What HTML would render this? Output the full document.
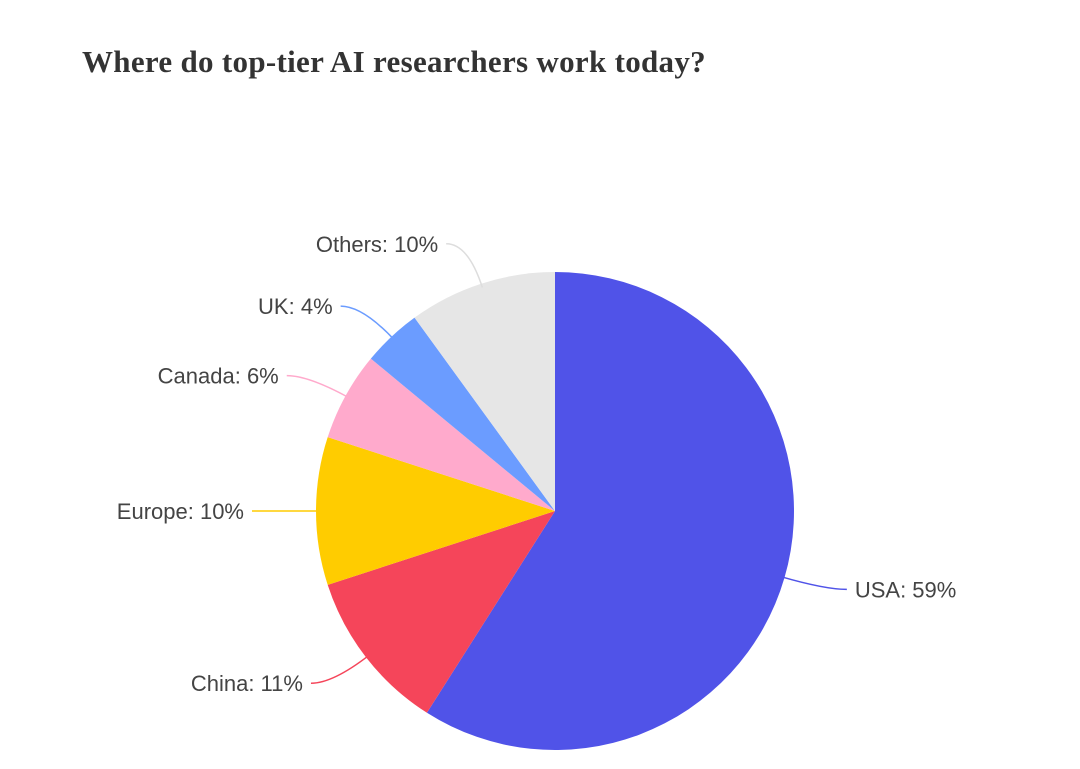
<!DOCTYPE html>
<html><head><meta charset="utf-8">
<style>
html,body{margin:0;padding:0;background:#fff;width:1080px;height:769px;overflow:hidden}
h1{position:absolute;left:82px;top:44px;margin:0;font:bold 31px "Liberation Serif",serif;color:#333;letter-spacing:0.3px}
svg{position:absolute;left:0;top:0}
</style></head>
<body>
<h1>Where do top-tier AI researchers work today?</h1>
<svg id="chart" width="1080" height="769"></svg>
<script>
const categories = ["USA","China","Europe","Canada","UK","Others"];
const values = [59,11,10,6,4,10];
const colors = ["#5053e8","#f5455a","#ffcc00","#ffaacc","#6b9cff","#e6e6e6"];
const lineColors = ["#5053e8","#f5455a","#ffcc00","#ffaacc","#6b9cff","#dddddd"];
const svg = document.getElementById('chart');
const NS = "http://www.w3.org/2000/svg";
const cx = 555, cy = 511, r = 239;
const total = values.reduce((a,b)=>a+b,0);
function pt(frac, rad){const a=frac*2*Math.PI;return [cx+rad*Math.sin(a), cy-rad*Math.cos(a)];}
let acc = 0;
values.forEach((v,i)=>{
  const f0 = acc/total, f1 = (acc+v)/total; acc += v;
  const p0 = pt(f0,r), p1 = pt(f1,r);
  const large = (f1-f0) > 0.5 ? 1 : 0;
  const path = document.createElementNS(NS,'path');
  path.setAttribute('d',`M${cx},${cy} L${p0[0]},${p0[1]} A${r},${r} 0 ${large} 1 ${p1[0]},${p1[1]} Z`);
  path.setAttribute('fill',colors[i]);
  
  
  svg.appendChild(path);
  const fm = (f0+f1)/2;
  const e = pt(fm,r-4), m = pt(fm,r+30), o = pt(fm,r+42);
  const right = Math.sin(fm*2*Math.PI) >= 0;
  const ex = o[0] + (right?22:-22);
  const ln = document.createElementNS(NS,'path');
  ln.setAttribute('d',`M${e[0]},${e[1]} Q${o[0]},${o[1]} ${ex},${o[1]}`);
  ln.setAttribute('fill','none');
  ln.setAttribute('stroke',lineColors[i]);
  ln.setAttribute('stroke-width','1.5');
  
  
  svg.appendChild(ln);
  const t = document.createElementNS(NS,'text');
  t.setAttribute('x', ex + (right?8:-8));
  t.setAttribute('y', o[1]+8);
  t.setAttribute('text-anchor', right?'start':'end');
  t.setAttribute('font-family','"Liberation Sans",sans-serif');
  t.setAttribute('font-size','22');
  t.setAttribute('fill','#444');
  t.textContent = categories[i]+': '+v+'%';
  
  
  svg.appendChild(t);
});
</script>
</body></html>
